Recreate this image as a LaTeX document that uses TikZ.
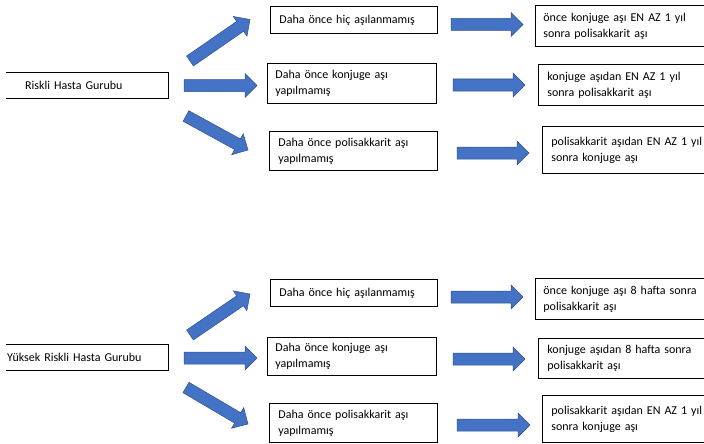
\documentclass[tikz,border=0pt]{standalone}
\usepackage{fontspec}
\setmainfont{Carlito}
\usetikzlibrary{calc}

\definecolor{arrowfill}{RGB}{68,114,196}
\definecolor{arrowedge}{RGB}{47,82,143}

\tikzset{
  every node/.style={font=\fontsize{12}{16}\selectfont},
  box/.style={draw=black, line width=0.8pt, anchor=north west, align=left,
              inner ysep=0pt, inner xsep=9pt},
  groupbox/.style={anchor=north west, align=left, inner ysep=0pt,
                   minimum width=162pt, minimum height=26pt},
  groupedge/.style={draw=black, line width=0.8pt},
  fatarrow/.style={fill=arrowfill, draw=arrowedge, line width=0.5pt, line join=miter},
}

% Block arrow from a tail coordinate to a tip coordinate
\newcommand\blockarrow[2]{%
  \coordinate (hb) at ($(#2)!12pt!(#1)$);
  \path[fatarrow]
    ($(#1)!6pt!90:(#2)$) -- ($(hb)!6pt!90:(#2)$) -- ($(hb)!12pt!90:(#2)$)
    -- (#2)
    -- ($(hb)!12pt!-90:(#2)$) -- ($(hb)!6pt!-90:(#2)$) -- ($(#1)!6pt!-90:(#2)$)
    -- cycle;
}

\begin{document}
\begin{tikzpicture}[x=1pt, y=-1pt]
\useasboundingbox (0,0) rectangle (704,444);

% ---------------- Riskli Hasta Gurubu ----------------
\node[groupbox, inner xsep=19pt, text width=124pt] (g1) at (6,72) {Riskli Hasta Gurubu};
\draw[groupedge] (g1.north west) -- (g1.north east) -- (g1.south east) -- (g1.south west);

\node[box, minimum height=27pt, text width=149pt] (m11) at (270,6) {Daha önce hiç aşılanmamış};
\node[box, inner xsep=8pt, minimum height=40pt, text width=153pt] (m12) at (267,63) {Daha önce konjuge aşı\\ yapılmamış};
\node[box, minimum height=39pt, text width=150pt] (m13) at (269,131) {Daha önce polisakkarit aşı\\ yapılmamış};

\node[box, inner xsep=8pt, minimum height=41pt, text width=155pt] (r11) at (535,5) {\mbox{önce konjuge aşı EN AZ 1 yıl}\\ sonra polisakkarit aşı};
\node[box, minimum height=41pt, text width=150pt] (r12) at (538,64) {\mbox{konjuge aşıdan EN AZ 1 yıl}\\ sonra polisakkarit aşı};
\node[box, minimum height=47pt, text width=146pt] (r13) at (542,126) {\mbox{polisakkarit aşıdan EN AZ 1 yıl}\\ sonra konjuge aşı\\[3pt]};

\coordinate (t11) at (190,61);   \coordinate (p11) at (250,19.5);
\coordinate (t12) at (184,85.5); \coordinate (p12) at (257,85.5);
\coordinate (t13) at (186,116);  \coordinate (p13) at (248,150);
\coordinate (u11) at (451,24.5); \coordinate (q11) at (523,24.5);
\coordinate (u12) at (453,85);   \coordinate (q12) at (525,85);
\coordinate (u13) at (457,153);  \coordinate (q13) at (529,153);
\blockarrow{t11}{p11}
\blockarrow{t12}{p12}
\blockarrow{t13}{p13}
\blockarrow{u11}{q11}
\blockarrow{u12}{q12}
\blockarrow{u13}{q13}

% ---------------- Yüksek Riskli Hasta Gurubu ----------------
\node[groupbox, inner xsep=1pt, text width=160pt] (g2) at (6,344) {Yüksek Riskli Hasta Gurubu};
\draw[groupedge] (g2.north west) -- (g2.north east) -- (g2.south east) -- (g2.south west);

\node[box, minimum height=27pt, text width=149pt] (m21) at (270,279) {Daha önce hiç aşılanmamış};
\node[box, inner xsep=8pt, minimum height=38pt, text width=153pt] (m22) at (267,337) {Daha önce konjuge aşı\\ yapılmamış};
\node[box, minimum height=39pt, text width=150pt] (m23) at (269,403) {Daha önce polisakkarit aşı\\ yapılmamış};

\node[box, inner xsep=8pt, minimum height=41pt, text width=155pt] (r21) at (535,278) {\mbox{önce konjuge aşı 8 hafta sonra}\\ polisakkarit aşı};
\node[box, minimum height=40pt, text width=150pt] (r22) at (538,338) {\mbox{konjuge aşıdan 8 hafta sonra}\\ polisakkarit aşı};
\node[box, minimum height=47pt, text width=146pt] (r23) at (542,395) {\mbox{polisakkarit aşıdan EN AZ 1 yıl}\\ sonra konjuge aşı\\[3pt]};

\coordinate (t21) at (190,335);  \coordinate (p21) at (250,294);
\coordinate (t22) at (184,358);  \coordinate (p22) at (257,358);
\coordinate (t23) at (186,387.5);\coordinate (p23) at (248,424);
\coordinate (u21) at (451,297);  \coordinate (q21) at (523,297);
\coordinate (u22) at (453,359);  \coordinate (q22) at (525,359);
\coordinate (u23) at (457,425);  \coordinate (q23) at (530,425);
\blockarrow{t21}{p21}
\blockarrow{t22}{p22}
\blockarrow{t23}{p23}
\blockarrow{u21}{q21}
\blockarrow{u22}{q22}
\blockarrow{u23}{q23}

\end{tikzpicture}
\end{document}
